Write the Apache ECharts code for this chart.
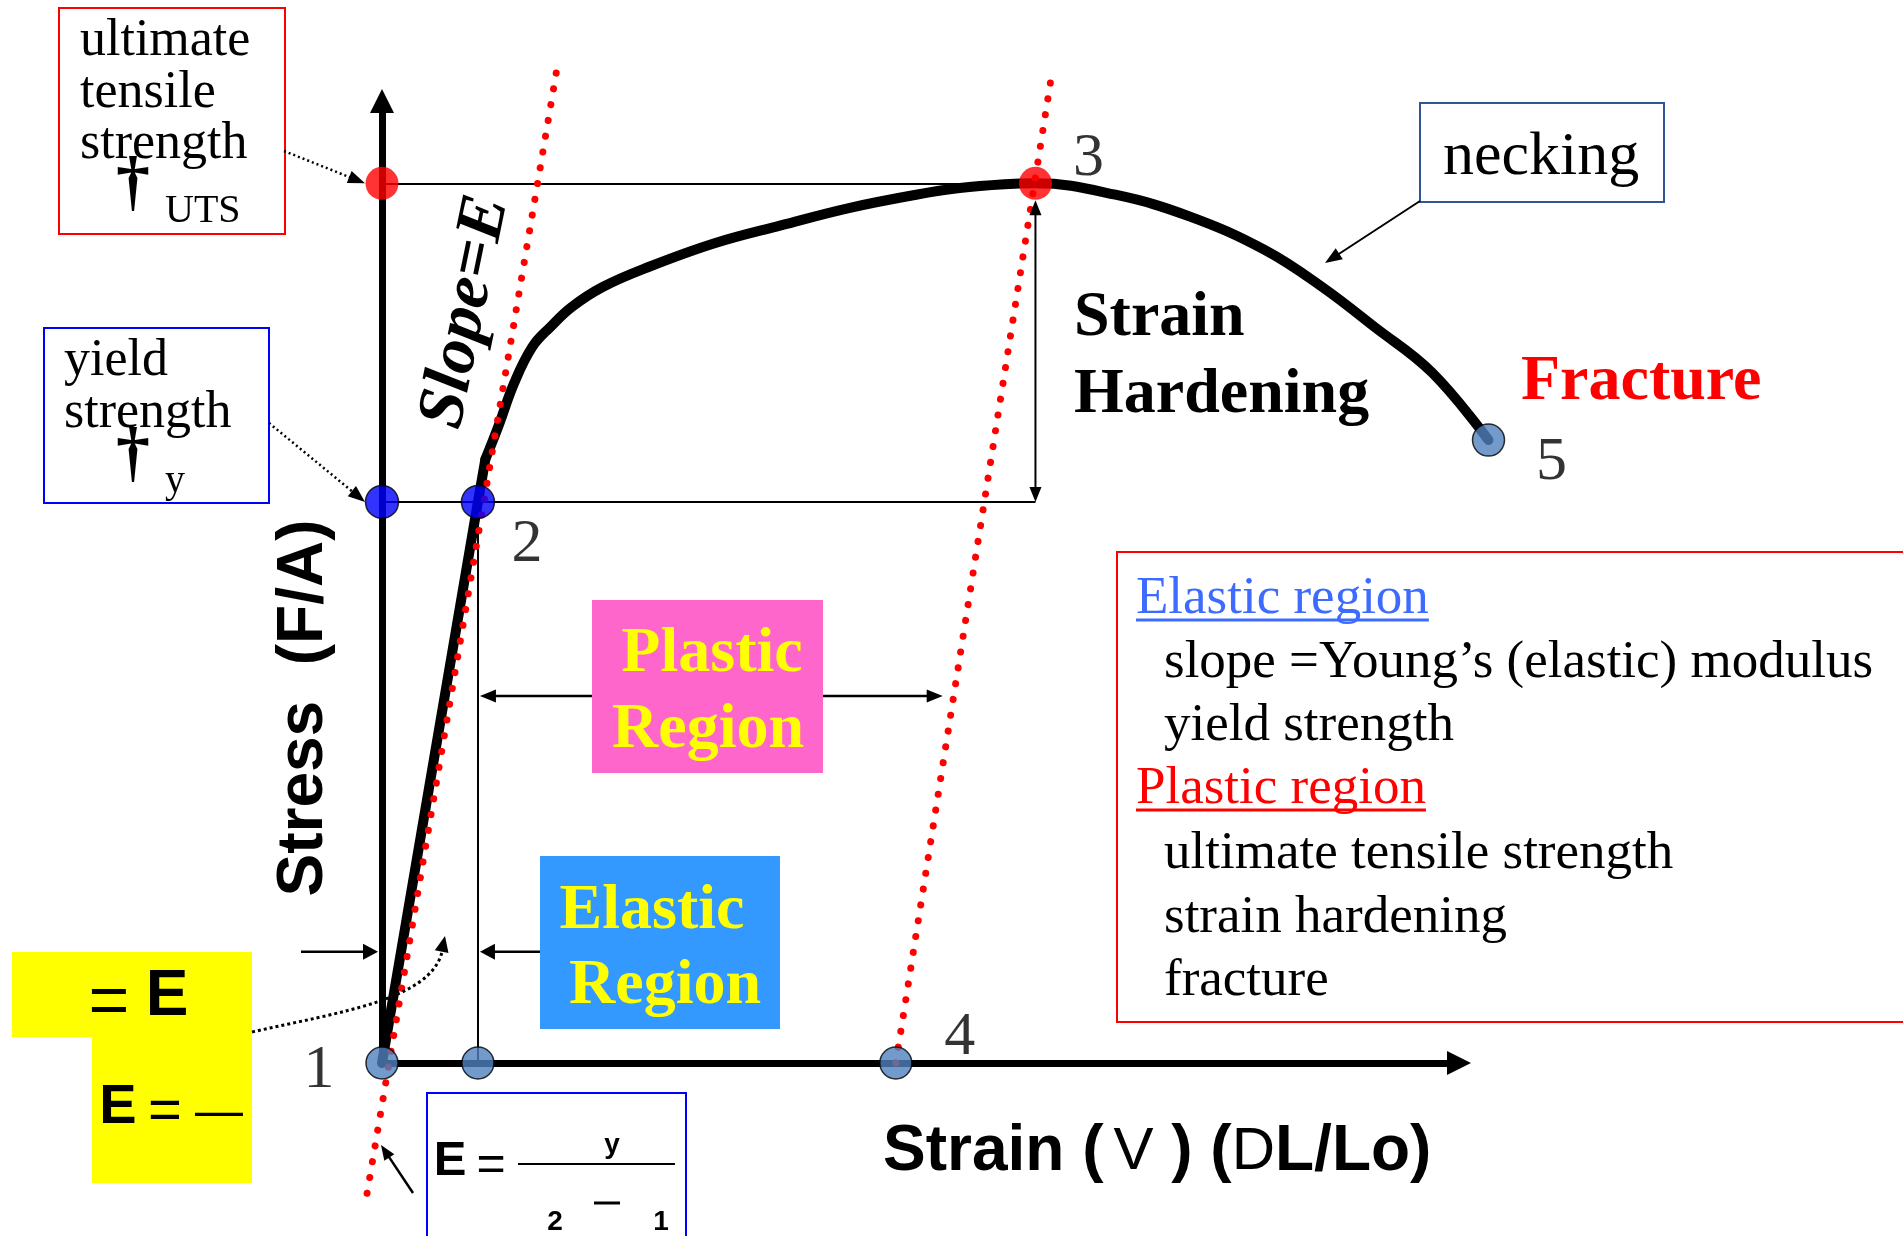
<!DOCTYPE html>
<html>
<head>
<meta charset="utf-8">
<title>Stress–Strain Curve</title>
<script src="https://cdn.jsdelivr.net/npm/echarts@6/dist/echarts.min.js"></script>
<style>
  html, body { margin: 0; padding: 0; background: #ffffff; }
  #chart { width: 1903px; height: 1236px; }
</style>
</head>
<body>
<div id="chart"></div>
<script>
// ---- Data (schematic units: strain 0–100 along the x axis, stress 0–100 along the y axis) ----

// linear elastic part of the curve
const elasticStrain = [0, 9.0, 9.7];
const elasticStress = [0, 59.0, 63.5];

// plastic part: strain hardening up to the UTS, then necking down to fracture
const plasticStrain = [9.7, 10.9, 12.4, 14.1, 15.8, 17.8, 20.7, 25.0, 31.2, 37.5, 43.8, 50.1, 54.2, 58.4, 61.3, 68.8, 75.8, 82.8, 88.2, 93.1, 98.5, 103.8];
const plasticStress = [63.5, 66.9, 71.5, 75.3, 77.4, 79.5, 81.6, 83.7, 86.2, 88.1, 89.9, 91.3, 92.0, 92.4, 92.5, 91.3, 89.0, 85.5, 81.6, 77.4, 72.6, 65.5];

// key points [strain, stress]
const yieldPoint = [9.0, 59.0];
const utsPoint = [61.3, 92.5];
const fracturePoint = [103.8, 65.5];
const permanentSetStrain = 48.2;

// drawn axes: strain axis and stress axis lengths
const strainAxisEnd = 100;
const stressAxisEnd = 100;

// dotted construction lines with slope E, as [strain, stress] end points
const modulusLine = [[-1.4, -13.7], [16.4, 104.5]];
const unloadLine = [[48.2, 0], [62.9, 104.5]];

// region arrows: stress level and strain end point
const plasticArrowStress = 38.6;
const plasticArrowEnd = 52.6;
const elasticArrowStress = 11.7;

// point numbers 1..5
const pointNumbers = ['1', '2', '3', '4', '5'];

// ---- Drawing ----
const SERIF = '"Liberation Serif", "Times New Roman", serif';
const SANS = '"Liberation Sans", Arial, sans-serif';

const chart = echarts.init(document.getElementById('chart'), null, { renderer: 'canvas' });
const zip = (xs, ys) => xs.map((x, i) => [x, ys[i]]);

const hiddenAxis = {
  type: 'value',
  axisLine: { show: false },
  axisTick: { show: false },
  axisLabel: { show: false },
  splitLine: { show: false }
};

function numberLabel(text, offset) {
  return {
    show: true, formatter: text, position: 'inside', offset: offset,
    fontFamily: SERIF, fontSize: 62, color: '#000000',
    textBorderWidth: 0, textBorderColor: 'transparent', textShadowBlur: 0
  };
}

const dottedRed = { color: '#FF0000', width: 7, type: [0.1, 15.9], cap: 'round' };

chart.setOption({
  animation: false,
  backgroundColor: '#ffffff',
  // plot area spans strain -10..110 and stress -15..110
  grid: { left: 275.4, top: 16.9, width: 1279.2, height: 1188.75 },
  xAxis: Object.assign({ min: -10, max: 110 }, hiddenAxis),
  yAxis: Object.assign({ min: -15, max: 110 }, hiddenAxis),
  series: [
    {
      // coordinate axes
      type: 'lines', coordinateSystem: 'cartesian2d', silent: true, z: 3,
      lineStyle: { color: '#000000', width: 7, opacity: 1 },
      data: [
        { coords: [[0, 0], [strainAxisEnd, 0]] },
        { coords: [[0, 0], [0, stressAxisEnd]] }
      ]
    },
    {
      // thin guide lines: UTS level, yield level, yield strain
      type: 'lines', coordinateSystem: 'cartesian2d', silent: true, z: 2,
      lineStyle: { color: '#000000', width: 2, opacity: 1 },
      data: [
        { coords: [[0, utsPoint[1]], utsPoint] },
        { coords: [[0, yieldPoint[1]], [utsPoint[0], yieldPoint[1]]] },
        { coords: [[yieldPoint[0], 0], yieldPoint] }
      ]
    },
    {
      type: 'line', name: 'elastic', data: zip(elasticStrain, elasticStress),
      symbol: 'none', clip: false, silent: true, z: 4,
      lineStyle: { color: '#000000', width: 10, cap: 'round', join: 'round' }
    },
    {
      type: 'line', name: 'plastic', data: zip(plasticStrain, plasticStress),
      smooth: 0.4,
      symbol: 'none', clip: false, silent: true, z: 4,
      lineStyle: { color: '#000000', width: 10, cap: 'round', join: 'round' }
    },
    {
      type: 'line', name: 'slope E', data: modulusLine,
      symbol: 'none', clip: false, silent: true, z: 6, lineStyle: dottedRed
    },
    {
      type: 'line', name: 'unloading', data: unloadLine,
      symbol: 'none', clip: false, silent: true, z: 6, lineStyle: dottedRed
    },
    {
      type: 'scatter', name: 'UTS', clip: false, silent: true, z: 8, symbolSize: 33,
      itemStyle: { color: '#FF0000' },
      data: [[0, utsPoint[1]], { value: utsPoint, label: numberLabel(pointNumbers[2], [53, -25]) }]
    },
    {
      type: 'scatter', name: 'yield', clip: false, silent: true, z: 8, symbolSize: 33,
      itemStyle: { color: '#0000FF', borderColor: '#000000', borderWidth: 1.5 },
      data: [[0, yieldPoint[1]], { value: yieldPoint, label: numberLabel(pointNumbers[1], [49, 43]) }]
    },
    {
      type: 'scatter', name: 'points', clip: false, silent: true, z: 8, symbolSize: 32,
      itemStyle: { color: '#4F81BD', borderColor: '#000000', borderWidth: 1.5 },
      data: [
        { value: [0, 0], label: numberLabel(pointNumbers[0], [-63, 8]) },
        [yieldPoint[0], 0],
        { value: [permanentSetStrain, 0], label: numberLabel(pointNumbers[3], [64, -25]) },
        { value: fracturePoint, label: numberLabel(pointNumbers[4], [63, 23]) }
      ]
    }
  ]
});

// ---- Annotations ----
const P = (pt) => chart.convertToPixel({ gridIndex: 0 }, pt);

function txt(text, x, baseline, size, o) {
  o = o || {};
  const family = o.family || SERIF;
  const k = family === SERIF ? 0.26 : 0.25;
  return {
    type: 'text', x: x, y: baseline - k * size, z: o.z || 20,
    style: {
      text: text, fontFamily: family, fontSize: size,
      fontWeight: o.weight || 'normal', fontStyle: o.style || 'normal',
      fill: o.fill || '#000000', align: o.align || 'left', verticalAlign: 'middle'
    }
  };
}
function centerTxt(text, x, y, size, o) {
  o = o || {};
  return {
    type: 'text', x: x, y: y, rotation: o.rotation || 0, z: o.z || 20,
    style: {
      text: text, fontFamily: o.family || SERIF, fontSize: size,
      fontWeight: o.weight || 'normal', fontStyle: o.style || 'normal',
      fill: o.fill || '#000000', align: 'center', verticalAlign: 'middle'
    }
  };
}
function box(x, y, w, h, o) {
  return {
    type: 'rect', z: o.z || 1, shape: { x: x, y: y, width: w, height: h },
    style: { fill: o.fill || 'none', stroke: o.stroke || null, lineWidth: o.lineWidth || 2 }
  };
}
function seg(a, b, o) {
  o = o || {};
  return {
    type: 'line', z: o.z || 15,
    shape: { x1: a[0], y1: a[1], x2: b[0], y2: b[1] },
    style: { stroke: o.color || '#000000', lineWidth: o.width || 2, lineDash: o.dash || null }
  };
}
function head(tip, dir, len, half, color) {
  const d = Math.hypot(dir[0], dir[1]);
  const ux = dir[0] / d, uy = dir[1] / d;
  const bx = tip[0] - ux * len, by = tip[1] - uy * len;
  return {
    type: 'polygon', z: 16,
    shape: { points: [tip, [bx - uy * half, by + ux * half], [bx + uy * half, by - ux * half]] },
    style: { fill: color || '#000000' }
  };
}
function arrow(from, tip, o) {
  o = o || {};
  const len = o.len || 16, half = o.half || 6.5;
  const dx = tip[0] - from[0], dy = tip[1] - from[1], d = Math.hypot(dx, dy);
  const end = [tip[0] - dx / d * (len - 1), tip[1] - dy / d * (len - 1)];
  return [seg(from, end, o), head(tip, [dx, dy], len, half, o.color)];
}

const measureCtx = document.createElement('canvas').getContext('2d');
function textWidth(text, size, family) {
  measureCtx.font = size + 'px ' + family;
  return measureCtx.measureText(text).width;
}

const g = [];

// axis arrow heads
const xEnd = P([strainAxisEnd, 0]);
const yEnd = P([0, stressAxisEnd]);
g.push(head([xEnd[0] + 23, xEnd[1]], [1, 0], 24, 12));
g.push(head([yEnd[0], yEnd[1] - 23], [0, -1], 24, 12));

// ultimate tensile strength call-out
g.push(box(59, 8, 226, 226, { stroke: '#FF0000' }));
g.push(txt('ultimate', 80, 55, 52));
g.push(txt('tensile', 80, 107, 52));
g.push(txt('strength', 80, 158, 52));
g.push(txt('\u2020', 133, 203, 68, { align: 'center', weight: 'bold' }));
g.push(txt('UTS', 165, 222, 40));
const utsDot = P([0, utsPoint[1]]);
g.push(...arrow([284, 151], [utsDot[0] - 17, utsDot[1]], { dash: [2, 3], width: 2.5, len: 17, half: 6.5 }));

// yield strength call-out
g.push(box(44, 328, 225, 175, { stroke: '#0000FF' }));
g.push(txt('yield', 64, 375, 52));
g.push(txt('strength', 64, 427, 52));
g.push(txt('\u2020', 133, 474, 68, { align: 'center', weight: 'bold' }));
g.push(txt('y', 165, 492, 40));
const yieldDot = P([0, yieldPoint[1]]);
g.push(...arrow([269, 423], [yieldDot[0] - 17, yieldDot[1]], { dash: [2, 3], width: 2.5, len: 17, half: 6.5 }));

// slope label and axis titles
g.push(centerTxt('Slope=E', 466, 312, 67, { weight: 'bold', style: 'italic', rotation: 78.4 * Math.PI / 180 }));
g.push(centerTxt('Stress  (F/A)', 304, 708, 64, { family: SANS, weight: 'bold', rotation: Math.PI / 2 }));
g.push({
  type: 'text', x: 883, y: 1168 - 0.25 * 64, z: 20,
  style: {
    text: '{b|Strain (}{v|V}{b| ) (}{d|D}{b|L/Lo)}',
    verticalAlign: 'middle', align: 'left',
    rich: {
      b: { fontFamily: SANS, fontSize: 64, fontWeight: 'bold', fill: '#000000' },
      v: { fontFamily: SANS, fontSize: 60, fontWeight: 'normal', fill: '#000000', padding: [0, 0, 0, 10] },
      d: { fontFamily: SANS, fontSize: 60, fontWeight: 'normal', fill: '#000000' }
    }
  }
});

// yellow modulus note
g.push({
  type: 'polygon', z: 1,
  shape: { points: [[12, 952], [252, 952], [252, 1183], [92, 1183], [92, 1037], [12, 1037]] },
  style: { fill: '#FFFF00' }
});
g.push(centerTxt('=', 109, 1005, 70, { family: SANS }));
g.push(centerTxt('E', 167, 997, 64, { family: SANS, weight: 'bold' }));
g.push(centerTxt('E', 118, 1108, 56, { family: SANS, weight: 'bold' }));
g.push(centerTxt('=', 165, 1113, 58, { family: SANS }));
g.push(centerTxt('\u2014', 219, 1114, 48, { family: SANS }));
g.push({
  type: 'bezierCurve', z: 15,
  shape: { x1: 252, y1: 1032, cpx1: 340, cpy1: 1012, cpx2: 430, cpy2: 1000, x2: 442, y2: 952 },
  style: { stroke: '#000000', lineWidth: 3, lineDash: [3, 3], fill: null }
});
g.push(head([445, 936], [3, -14], 16, 7));

// formula box
g.push(box(427, 1093, 259, 170, { stroke: '#0000FF' }));
g.push(centerTxt('E', 450, 1161, 49, { family: SANS, weight: 'bold' }));
g.push(centerTxt('=', 491, 1166, 50, { family: SANS }));
g.push(seg([518, 1164], [675, 1164], { width: 2 }));
g.push(txt('y', 612, 1152, 28, { family: SANS, weight: 'bold', align: 'center' }));
g.push(txt('2', 555, 1229, 28, { family: SANS, weight: 'bold', align: 'center' }));
g.push(seg([594, 1203], [620, 1203], { width: 3 }));
g.push(txt('1', 661, 1229, 28, { family: SANS, weight: 'bold', align: 'center' }));
g.push(...arrow([413, 1193], [381, 1145], { width: 2.5, len: 15, half: 6 }));

// plastic region label and span arrows
g.push(box(592, 600, 231, 173, { fill: '#FF66CC' }));
g.push(txt('Plastic', 712, 671, 64, { weight: 'bold', fill: '#FFFF00', align: 'center' }));
g.push(txt('Region', 708, 747, 64, { weight: 'bold', fill: '#FFFF00', align: 'center' }));
const pl = P([yieldPoint[0], plasticArrowStress]);
const pr = P([plasticArrowEnd, plasticArrowStress]);
g.push(...arrow([592, pl[1]], [pl[0] + 2, pl[1]], { width: 2.5 }));
g.push(...arrow([823, pr[1]], [pr[0], pr[1]], { width: 2.5 }));

// elastic region label and span arrows
g.push(box(540, 856, 240, 173, { fill: '#3399FF' }));
g.push(txt('Elastic', 652, 928, 64, { weight: 'bold', fill: '#FFFF00', align: 'center' }));
g.push(txt('Region', 665, 1003, 64, { weight: 'bold', fill: '#FFFF00', align: 'center' }));
const el = P([0, elasticArrowStress]);
const er = P([yieldPoint[0], elasticArrowStress]);
g.push(...arrow([301, el[1]], [el[0] - 4, el[1]], { width: 2.5, len: 15, half: 8 }));
g.push(...arrow([540, er[1]], [er[0] + 2, er[1]], { width: 2.5, len: 15, half: 8 }));

// strain hardening span (yield level to UTS)
const dTop = P(utsPoint), dBot = P([utsPoint[0], yieldPoint[1]]);
const dTip = [dTop[0], dTop[1] + 17];
g.push(seg([dTop[0], dTip[1] + 14], [dBot[0], dBot[1] - 14], { width: 2 }));
g.push(head(dTip, [0, -1], 15, 6));
g.push(head([dBot[0], dBot[1]], [0, 1], 15, 6));
g.push(txt('Strain', 1074, 335, 64, { weight: 'bold' }));
g.push(txt('Hardening', 1074, 412, 64, { weight: 'bold' }));

// necking and fracture
g.push(box(1420, 103, 244, 99, { stroke: '#2F5597' }));
g.push(txt('necking', 1443, 174, 62));
g.push(...arrow([1420, 201], [1325, 263], { width: 2, len: 17, half: 6.5 }));
g.push(txt('Fracture', 1521, 399, 64, { weight: 'bold', fill: '#FF0000' }));

// summary panel
g.push(box(1117, 552, 820, 470, { stroke: '#FF0000' }));
const panelRows = [
  ['Elastic region', 1136, 613, '#3D6BFF', true],
  ['slope =Young\u2019s (elastic) modulus', 1164, 677, '#000000', false],
  ['yield strength', 1164, 740, '#000000', false],
  ['Plastic region', 1136, 803, '#FF0000', true],
  ['ultimate tensile strength', 1164, 868, '#000000', false],
  ['strain hardening', 1164, 932, '#000000', false],
  ['fracture', 1164, 995, '#000000', false]
];
panelRows.forEach(function (r) {
  g.push(txt(r[0], r[1], r[2], 53, { fill: r[3] }));
  if (r[4]) {
    const w = textWidth(r[0], 53, SERIF);
    g.push(seg([r[1], r[2] + 7], [r[1] + w, r[2] + 7], { color: r[3], width: 3 }));
  }
});

chart.setOption({ graphic: { elements: g } });
</script>
</body>
</html>
